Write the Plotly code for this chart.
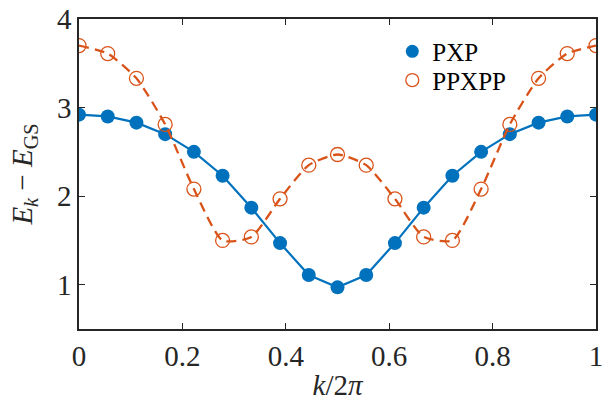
import plotly.graph_objects as go

k = [i / 18 for i in range(19)]
pxp = [2.92, 2.90, 2.83, 2.70, 2.50, 2.23, 1.87, 1.47, 1.11, 0.97,
       1.11, 1.47, 1.87, 2.23, 2.50, 2.70, 2.83, 2.90, 2.92]
ppxpp = [3.70, 3.61, 3.33, 2.81, 2.08, 1.50, 1.54, 1.97, 2.35, 2.47,
         2.35, 1.97, 1.54, 1.50, 2.08, 2.81, 3.33, 3.61, 3.70]

blue = "#0072BD"
orange = "#D95319"
axc = "#262626"
font = "'Times New Roman', 'Liberation Serif', Times, serif"

fig = go.Figure()
fig.add_trace(go.Scatter(x=k, y=pxp, mode="lines+markers", showlegend=False,
                         line=dict(color=blue, width=2.2),
                         marker=dict(color=blue, size=14, symbol="circle")))
fig.add_trace(go.Scatter(x=k, y=ppxpp, mode="lines+markers", showlegend=False,
                         line=dict(color=orange, width=2.3, dash="10px,6px", shape="spline", smoothing=0.6),
                         marker=dict(color=orange, size=14, symbol="circle-open",
                                     line=dict(color=orange, width=1.3))))
# legend entries (marker only, as in the reference)
fig.add_trace(go.Scatter(x=[None], y=[None], mode="markers", name="PXP", legend="legend",
                         marker=dict(color=blue, size=13, symbol="circle")))
fig.add_trace(go.Scatter(x=[None], y=[None], mode="markers", name="PPXPP", legend="legend2",
                         marker=dict(color=orange, size=13, symbol="circle-open",
                                     line=dict(color=orange, width=1.3))))

axis_common = dict(showgrid=False, zeroline=False, showline=True, linecolor=axc,
                   linewidth=1.5, mirror="ticks", ticks="inside", ticklen=6,
                   tickcolor=axc, tickwidth=1.2, automargin=False,
                   tickfont=dict(family=font, size=29, color=axc))

leg_common = dict(xanchor="left", yanchor="middle", bgcolor="rgba(0,0,0,0)",
                  borderwidth=0, font=dict(family=font, size=25, color="black"))

fig.update_layout(
    width=608, height=401,
    margin=dict(l=79, r=12, t=19, b=72),
    paper_bgcolor="white", plot_bgcolor="white",
    font=dict(family=font, size=29, color=axc),
    xaxis=dict(range=[0, 1], tickvals=[0, 0.2, 0.4, 0.6, 0.8, 1],
               ticktext=["0", "0.2", "0.4", "0.6", "0.8", "1"],
               title=dict(text="<i>k</i>/2<i>π</i>", standoff=5,
                          font=dict(family=font, size=29, color=axc)),
               **axis_common),
    yaxis=dict(range=[0.5, 4], tickvals=[1, 2, 3, 4],
               title=dict(text="<i>E</i><sub><i>k</i></sub> − <i>E</i><sub>GS</sub>",
                          standoff=16, font=dict(family=font, size=29, color=axc)),
               **axis_common),
    legend=dict(x=0.606, y=0.895, **leg_common),
    legend2=dict(x=0.606, y=0.802, **leg_common),
)

fig.write_html("out.html")
